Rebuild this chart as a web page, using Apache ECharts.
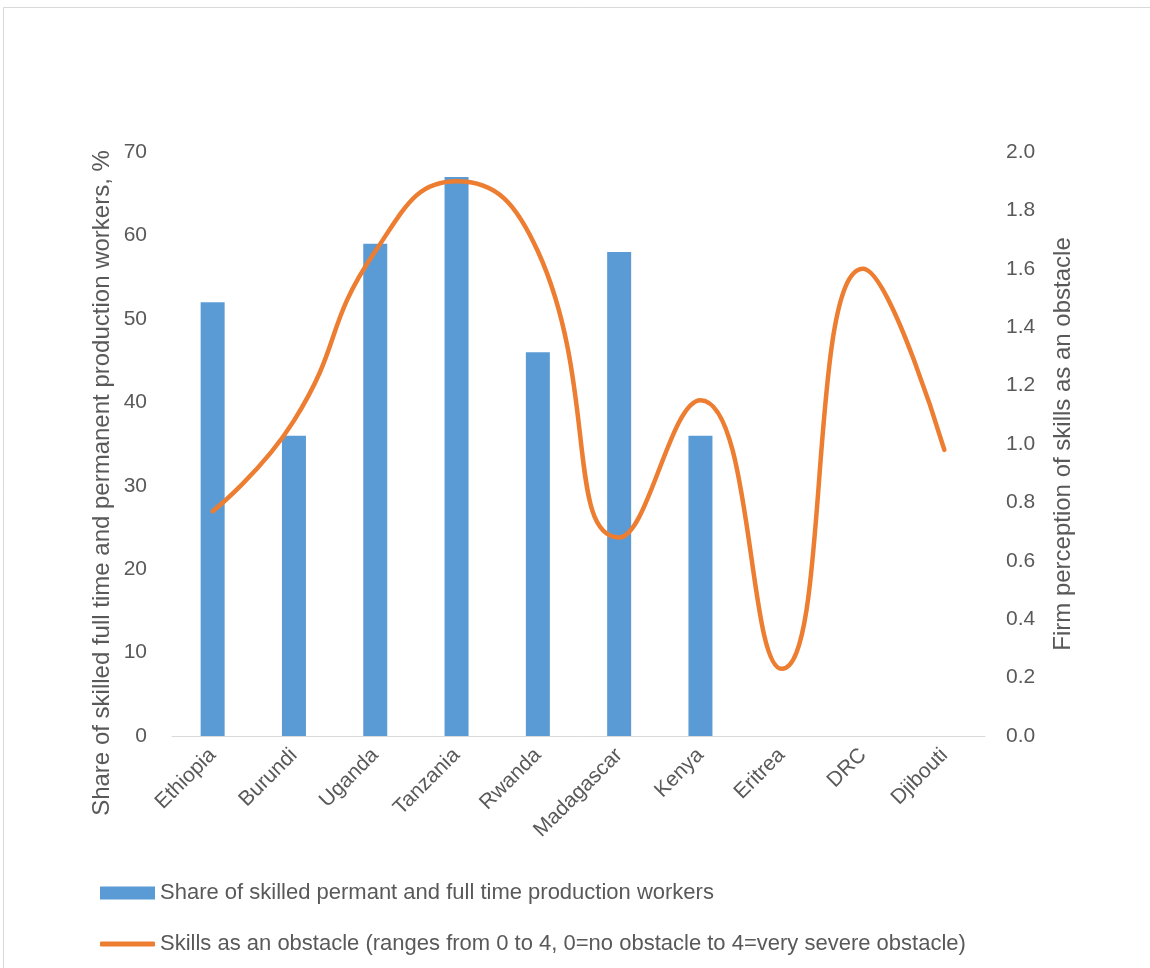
<!DOCTYPE html>
<html>
<head>
<meta charset="utf-8">
<script src="https://cdn.jsdelivr.net/npm/echarts@6/dist/echarts.min.js"></script>
<style>
html,body{margin:0;padding:0;background:#fff;}
#main{width:1150px;height:968px;}
</style>
</head>
<body>
<div id="main"></div>
<script>
var countries = ['Ethiopia','Burundi','Uganda','Tanzania','Rwanda','Madagascar','Kenya','Eritrea','DRC','Djibouti'];
var skilledShare = [52, 36, 59, 67, 46, 58, 36, null, null, null];
var skillsObstacle = [0.77, 1.08, 1.66, 1.90, 1.66, 0.68, 1.15, 0.23, 1.60, 0.98];
var leftTicks = [0, 70, 10];
var rightTicks = [0, 2, 0.2];

var FONT = 'Liberation Sans';
var GREY = '#595959';
var barName = 'Share of skilled permant and full time production workers';
var lineName = 'Skills as an obstacle (ranges from 0 to 4, 0=no obstacle to 4=very severe obstacle)';

var chart = echarts.init(document.getElementById('main'));
chart.setOption({
	animation: false,
	textStyle: {fontFamily: FONT},
	graphic: [
		{type:'rect', shape:{x:3.5, y:7.5, width:1160, height:980}, style:{fill:'none', stroke:'#d9d9d9', lineWidth:1}},
		{type:'text', x:102, y:483, rotation:Math.PI/2,
			style:{text:'Share of skilled full time and permanent production workers, %', fill:GREY, font:'24px ' + FONT, align:'center', verticalAlign:'middle'}}
	],
	grid: {left:172, right:165, top:152, bottom:232},
	legend: [
		{data:[{name:barName, icon:'rect'}], left:95, top:877, itemWidth:55, itemHeight:13, itemGap:0,
			textStyle:{color:GREY, fontSize:22, fontFamily:FONT}},
		{data:[{name:lineName, icon:'roundRect'}], left:95, top:928, itemWidth:55, itemHeight:5,
			textStyle:{color:GREY, fontSize:22, fontFamily:FONT}}
	],
	xAxis: {
		type:'category', data:countries,
		axisLine:{lineStyle:{color:'#d9d9d9'}},
		axisTick:{show:false},
		axisLabel:{rotate:45, interval:0, margin:16, color:GREY, fontSize:21, fontFamily:FONT}
	},
	yAxis: [
		{type:'value', min:leftTicks[0], max:leftTicks[1], interval:leftTicks[2],
			axisLine:{show:false}, axisTick:{show:false}, splitLine:{show:false},
			axisLabel:{margin:25, color:GREY, fontSize:21, fontFamily:FONT}},
		{type:'value', min:rightTicks[0], max:rightTicks[1], interval:rightTicks[2],
			name:'Firm perception of skills as an obstacle', nameLocation:'middle', nameGap:66,
			nameTextStyle:{color:GREY, fontSize:24, fontFamily:FONT},
			axisLine:{show:false}, axisTick:{show:false}, splitLine:{show:false},
			axisLabel:{margin:21, color:GREY, fontSize:21, fontFamily:FONT, formatter:function(v){return v.toFixed(1);}}}
	],
	series: [
		{name:barName, type:'bar', data:skilledShare, barWidth:24, itemStyle:{color:'#5b9bd5'}},
		{name:lineName, type:'line', yAxisIndex:1, data:skillsObstacle, smooth:0.5, symbol:'none',
			itemStyle:{color:'#ed7d31'}, lineStyle:{color:'#ed7d31', width:4.5, cap:'round'}}
	]
});
</script>
</body>
</html>
